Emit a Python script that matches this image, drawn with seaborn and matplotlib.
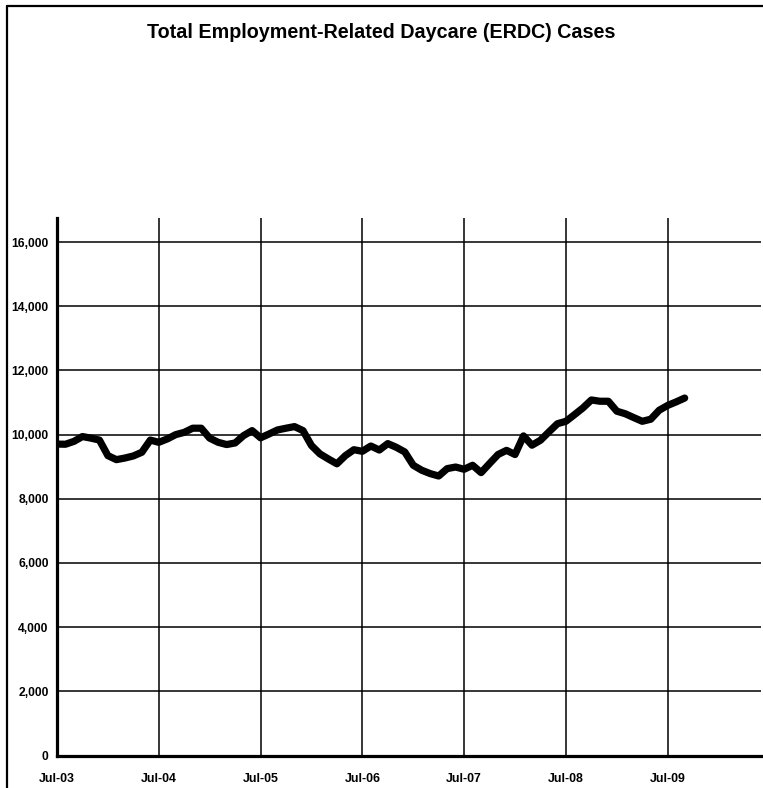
import pandas as pd
import matplotlib.pyplot as plt
import seaborn as sns
from matplotlib.lines import Line2D

# --- Dados (casos mensais, Jul-03 a Sep-09) ---
month_index = list(range(75))
erdc_cases = [
    9705, 9700, 9790, 9940, 9890, 9830, 9345, 9220, 9270, 9335, 9450, 9830,
    9760, 9865, 10000, 10070, 10200, 10200, 9890, 9760, 9690, 9740, 9970, 10125,
    9900, 10020, 10145, 10200, 10250, 10125, 9660, 9400, 9240, 9090, 9345, 9530,
    9480, 9645, 9520, 9720, 9605, 9460, 9045, 8890, 8785, 8710, 8940, 8990,
    8920, 9045, 8815, 9100, 9380, 9510, 9380, 9960, 9670, 9825, 10085, 10340,
    10415, 10620, 10830, 11080, 11040, 11040, 10730, 10650, 10530, 10415, 10480, 10760,
    10910, 11020, 11140,
]
tick_positions = [0, 12, 24, 36, 48, 60, 72]
tick_labels = ['Jul-03', 'Jul-04', 'Jul-05', 'Jul-06', 'Jul-07', 'Jul-08', 'Jul-09']
y_ticks = [0, 2000, 4000, 6000, 8000, 10000, 12000, 14000, 16000]

df = pd.DataFrame({'month': month_index, 'cases': erdc_cases})

# --- Estilo ---
sns.set_style("white")
plt.rcParams['font.family'] = ['Liberation Sans', 'DejaVu Sans']

W, H = 763, 788
fig = plt.figure(figsize=(W / 100, H / 100), dpi=100)
ax = fig.add_axes([57 / W, (H - 755.5) / H, (761 - 57) / W, (755.5 - 217.7) / H])

sns.lineplot(data=df, x='month', y='cases', ax=ax, color='black', linewidth=5.2,
             solid_capstyle='round', solid_joinstyle='round', zorder=5)

ax.set_xlim(0, 83)
ax.set_ylim(0, 16760)
ax.set_xticks(tick_positions)
ax.set_xticklabels(tick_labels, fontsize=8.9, fontweight='bold')
ax.set_yticks(y_ticks)
ax.set_yticklabels([f'{v:,}' for v in y_ticks], fontsize=8.7, fontweight='bold')
ax.set_xlabel('')
ax.set_ylabel('')

# grade preta
ax.grid(True, color='black', linewidth=1.1)
ax.set_axisbelow(True)

for side in ['top', 'right']:
    ax.spines[side].set_visible(False)
for side in ['left', 'bottom']:
    ax.spines[side].set_color('black')
    ax.spines[side].set_linewidth(2.3)

ax.tick_params(axis='x', direction='inout', length=7, width=1.5, pad=9, colors='black')
ax.tick_params(axis='y', direction='out', length=4, width=1.5, pad=2, colors='black')

# titulo
fig.text(381 / W, (H - 33) / H, 'Total Employment-Related Daycare (ERDC) Cases',
         ha='center', va='center', fontsize=14.2, fontweight='bold', color='black')

# moldura (topo e esquerda)
fig.add_artist(Line2D([7 / W, 7 / W], [0, (H - 6) / H], color='black', linewidth=1.6,
                      transform=fig.transFigure))
fig.add_artist(Line2D([7 / W, 1], [(H - 6) / H, (H - 6) / H], color='black', linewidth=1.6,
                      transform=fig.transFigure))

fig.savefig('out.png', dpi=100)
plt.close(fig)
